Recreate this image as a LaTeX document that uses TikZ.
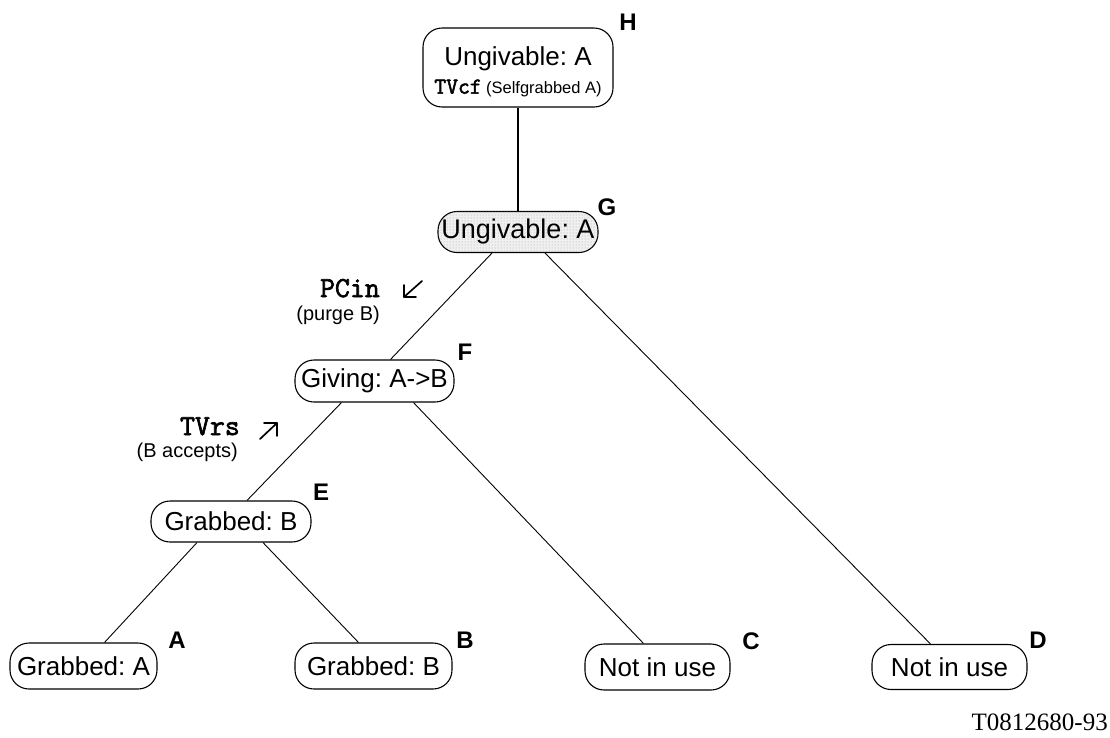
\documentclass[tikz,border=0pt]{standalone}
\usepackage{fontspec}
\setmainfont{Liberation Sans}
\newfontfamily\timesfont{Liberation Serif}
\newfontfamily\cmdfont[FakeBold=2.2]{Latin Modern Mono}
\usetikzlibrary{calc,patterns}
\frenchspacing

\begin{document}
\begin{tikzpicture}[x=1pt,y=-1pt,
  state/.style={draw, line width=1.1pt, rounded corners=19pt, inner sep=0pt,
    font=\fontsize{26}{28}\selectfont},
  tag/.style={font=\bfseries\fontsize{24}{24}\selectfont, inner sep=0pt},
  edge/.style={line width=0.9pt},
  cmd/.style={font=\cmdfont\fontsize{29}{29}\selectfont, anchor=base east, inner sep=0pt},
  note/.style={font=\fontsize{20}{20}\selectfont, anchor=base east, inner sep=0pt},
  hint/.style={line width=1.7pt, line cap=round, line join=round}
]
\useasboundingbox (0,0) rectangle (1110,737);

% states
\node[state, minimum width=190pt, minimum height=79pt] (H) at (518,67.5) {};
\node[align=center, inner sep=0pt, font=\fontsize{26}{28}\selectfont] (Htext) at (518,72)
  {Ungivable: A\\[0pt]
   {\cmdfont\fontsize{23}{22}\selectfont TVcf}\,{\fontsize{16.5}{22}\selectfont (Selfgrabbed A)}};
\node[state, minimum width=160pt, minimum height=41pt, fill=gray!12,
      postaction={pattern=dots, pattern color=gray!70},
      font=\fontsize{27}{28}\selectfont] (G) at (518,232) {Ungivable: A};
\node[state, minimum width=159pt, minimum height=42pt] (F) at (374.5,381) {Giving: A->B};
\node[state, minimum width=160pt, minimum height=41pt] (E) at (231,521.5) {Grabbed: B};
\node[state, minimum width=147pt, minimum height=46pt] (A) at (83.5,666) {Grabbed: A};
\node[state, minimum width=157pt, minimum height=46pt] (B) at (373.5,666) {Grabbed: B};
\node[state, minimum width=145pt, minimum height=46pt] (C) at (657.5,667) {Not in use};
\node[state, minimum width=155pt, minimum height=45pt] (D) at (949.5,667) {Not in use};

% letters
\node[tag] (tH) at (628,22) {H};
\node[tag] (tG) at (607,207) {G};
\node[tag] (tF) at (465,352) {F};
\node[tag] (tE) at (321,492) {E};
\node[tag] (tA) at (177,640) {A};
\node[tag] (tB) at (465,640) {B};
\node[tag] (tC) at (751,641) {C};
\node[tag] (tD) at (1038,640) {D};

% tree edges
\draw[line width=1.6pt] (H.south) -- (G.north);
\draw[edge] ($(G.south)+(-26,0)$) -- ($(F.north)+(16,0)$);
\draw[edge] ($(G.south)+(27,0)$) -- ($(D.north)+(-19,0)$);
\draw[edge] ($(F.south)+(-33,0)$) -- ($(E.north)+(16,0)$);
\draw[edge] ($(F.south)+(39,0)$) -- ($(C.north)+(-14,0)$);
\draw[edge] ($(E.south)+(-34,0)$) -- ($(A.north)+(21,0)$);
\draw[edge] ($(E.south)+(32,0)$) -- ($(B.north)+(-15,0)$);

% transition notes
\node[cmd] (pcin) at (380,297) {PCin};
\node[note] (purge) at (380,320) {(purge B)};
\node[cmd] (tvrs) at (240,435) {TVrs};
\node[note] (accepts) at (238,457) {(B accepts)};

% direction marks
\draw[hint] (416,297) -- (404,297) -- (404,285);
\draw[hint] (404,297) -- (422,281);
\draw[hint] (264,423) -- (277,423) -- (277,436);
\draw[hint] (277,423) -- (260,439);

% drawing number
\node[anchor=base east, inner sep=0pt, font=\timesfont\fontsize{25}{25}\selectfont] (code) at (1108,730) {T0812680-93};
\end{tikzpicture}
\end{document}
